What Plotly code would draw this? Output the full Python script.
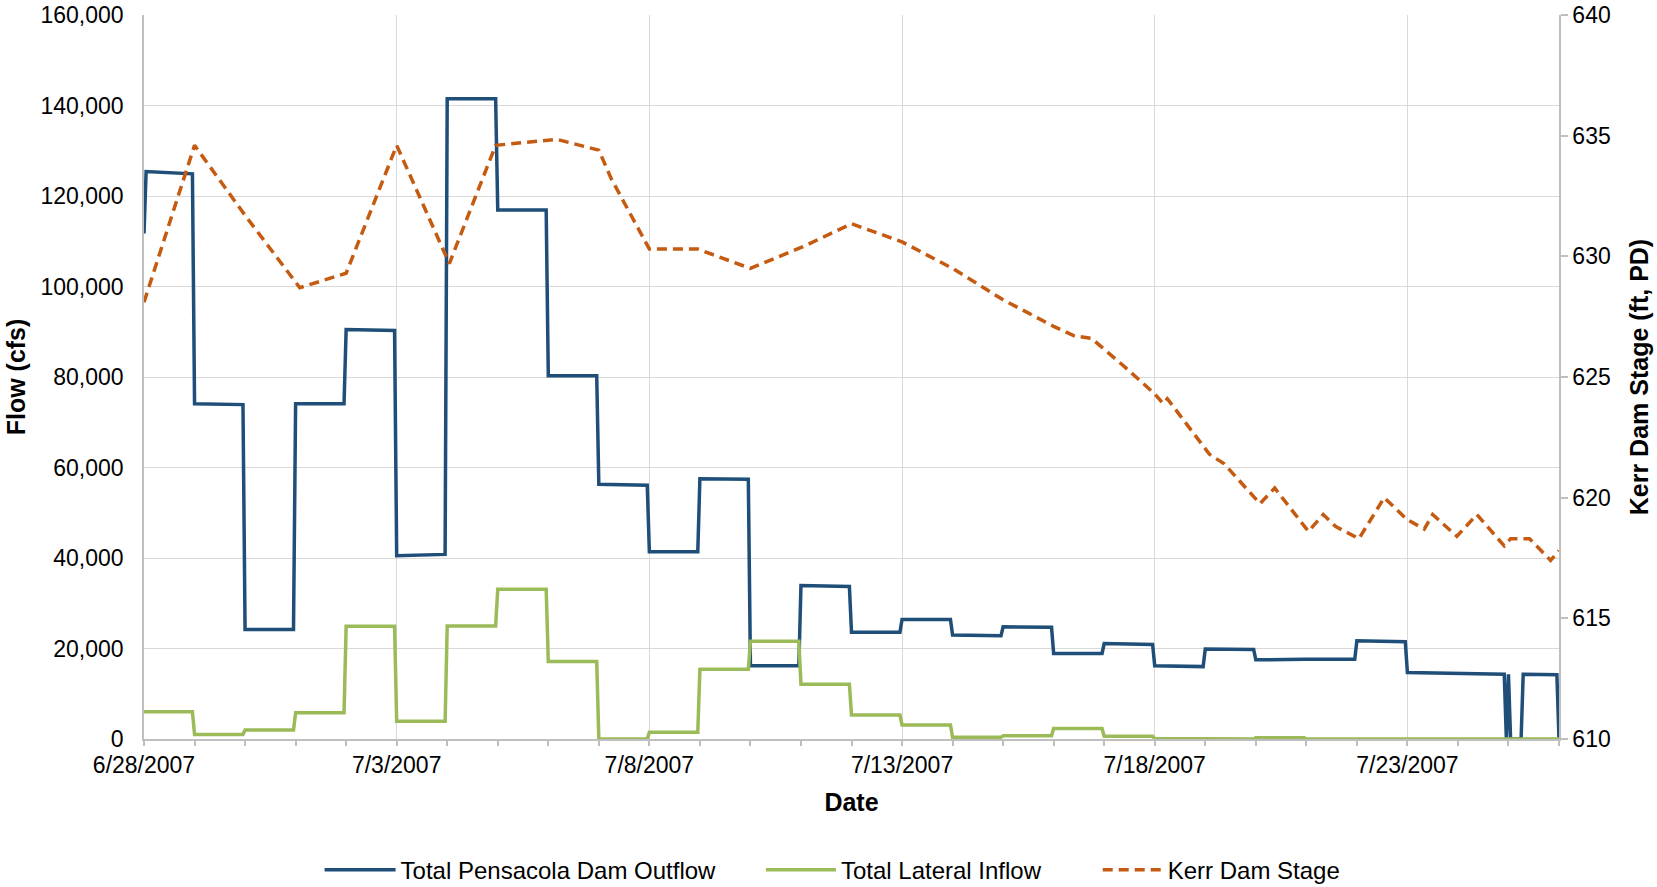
import pandas as pd
import plotly.graph_objects as go

# ---- Total Pensacola Dam Outflow (cfs) at hourly breakpoints ----
outflow_time = [
    "2007-06-28 00:00", "2007-06-28 01:00", "2007-06-28 23:00",
    "2007-06-29 00:00", "2007-06-29 23:00",
    "2007-06-30 00:00", "2007-06-30 23:00",
    "2007-07-01 00:00", "2007-07-01 23:00",
    "2007-07-02 00:00", "2007-07-02 23:00",
    "2007-07-03 00:00", "2007-07-03 23:00",
    "2007-07-04 00:00", "2007-07-04 23:00",
    "2007-07-05 00:00", "2007-07-05 23:00",
    "2007-07-06 00:00", "2007-07-06 23:00",
    "2007-07-07 00:00", "2007-07-07 23:00",
    "2007-07-08 00:00", "2007-07-08 23:00",
    "2007-07-09 00:00", "2007-07-09 23:00",
    "2007-07-10 00:00", "2007-07-10 23:00",
    "2007-07-11 00:00", "2007-07-11 23:00",
    "2007-07-12 00:00", "2007-07-12 23:00",
    "2007-07-13 00:00", "2007-07-13 23:00",
    "2007-07-14 00:00", "2007-07-14 23:00",
    "2007-07-15 00:00", "2007-07-15 23:00",
    "2007-07-16 00:00", "2007-07-16 23:00",
    "2007-07-17 00:00", "2007-07-17 23:00",
    "2007-07-18 00:00", "2007-07-18 23:00",
    "2007-07-19 00:00", "2007-07-19 23:00",
    "2007-07-20 00:00", "2007-07-20 23:00",
    "2007-07-21 00:00", "2007-07-21 23:00",
    "2007-07-22 00:00", "2007-07-22 23:00",
    "2007-07-23 00:00", "2007-07-23 23:00",
    "2007-07-24 00:00", "2007-07-24 22:00", "2007-07-24 23:00",
    "2007-07-25 00:00", "2007-07-25 01:00", "2007-07-25 06:00",
    "2007-07-25 07:00", "2007-07-25 23:00",
    "2007-07-26 00:00",
]
outflow_cfs = [
    111700, 125400, 124900,
    74100, 73900,
    24200, 24200,
    74100, 74100,
    90500, 90300,
    40500, 40800,
    141500, 141500,
    116900, 116900,
    80300, 80300,
    56300, 56100,
    41400, 41400,
    57500, 57400,
    16200, 16200,
    33900, 33700,
    23600, 23600,
    26400, 26400,
    23000, 22800,
    24800, 24700,
    18900, 18900,
    21100, 20900,
    16200, 16000,
    19900, 19800,
    17500, 17600,
    17600, 17600,
    21700, 21500,
    14700, 14500,
    14400, 14300, 0,
    14300, 0, 0,
    14300, 14200,
    0,
]

# ---- Total Lateral Inflow (cfs), one value per day ----
inflow_day = [
    "2007-06-28", "2007-06-29", "2007-06-30", "2007-07-01", "2007-07-02",
    "2007-07-03", "2007-07-04", "2007-07-05", "2007-07-06", "2007-07-07",
    "2007-07-08", "2007-07-09", "2007-07-10", "2007-07-11", "2007-07-12",
    "2007-07-13", "2007-07-14", "2007-07-15", "2007-07-16", "2007-07-17",
    "2007-07-18", "2007-07-19", "2007-07-20", "2007-07-21", "2007-07-22",
    "2007-07-23", "2007-07-24", "2007-07-25",
]
inflow_cfs = [
    6000, 1000, 2000, 5800, 24900,
    3900, 25000, 33100, 17100, 0,
    1500, 15400, 21600, 12100, 5300,
    3100, 400, 700, 2300, 600,
    100, 0, 300, 0, 0,
    0, 0, 0,
]

# ---- Kerr Dam Stage (ft, PD) ----
stage_time = [
    "2007-06-28 00:00", "2007-06-29 00:00", "2007-06-30 00:00", "2007-07-01 02:00",
    "2007-07-02 00:00", "2007-07-03 00:00", "2007-07-04 01:00", "2007-07-04 23:00",
    "2007-07-06 04:00", "2007-07-07 00:00", "2007-07-07 06:00", "2007-07-08 00:00",
    "2007-07-08 23:00", "2007-07-10 00:00", "2007-07-11 01:00", "2007-07-12 00:00",
    "2007-07-13 00:00", "2007-07-14 00:00", "2007-07-15 00:00", "2007-07-16 00:00",
    "2007-07-16 10:00", "2007-07-16 18:00", "2007-07-17 10:00", "2007-07-18 00:00",
    "2007-07-18 04:00", "2007-07-18 06:00", "2007-07-19 02:00", "2007-07-19 09:00",
    "2007-07-20 02:00", "2007-07-20 09:00", "2007-07-21 01:00", "2007-07-21 08:00",
    "2007-07-21 14:00", "2007-07-22 01:00", "2007-07-22 13:00", "2007-07-22 23:45",
    "2007-07-23 08:00", "2007-07-23 12:00", "2007-07-23 23:30", "2007-07-24 09:00",
    "2007-07-24 22:00", "2007-07-25 01:00", "2007-07-25 10:00", "2007-07-25 20:00",
    "2007-07-26 00:00",
]
stage_ft = [
    628.1, 634.6, 631.7, 628.7,
    629.3, 634.6, 629.7, 634.6,
    634.85, 634.4, 633.2, 630.3,
    630.3, 629.5, 630.4, 631.35,
    630.6, 629.5, 628.2, 627.1,
    626.7, 626.6, 625.4, 624.3,
    623.9, 624.1, 621.8, 621.4,
    619.75, 620.4, 618.6, 619.3,
    618.8, 618.3, 620.0, 619.1,
    618.7, 619.3, 618.4, 619.3,
    618.0, 618.3, 618.3, 617.4,
    617.8,
]

# daily inflow held flat through each day (00:00 - 23:00)
inflow_x, inflow_y = [], []
for d, v in zip(pd.to_datetime(inflow_day), inflow_cfs):
    inflow_x += [d, d + pd.Timedelta(hours=23)]
    inflow_y += [v, v]
inflow_x.append(pd.Timestamp("2007-07-26"))
inflow_y.append(inflow_cfs[-1])

BLUE = "#1F4E79"
GREEN = "#9BBB59"
ORANGE = "#C55A11"
GRID = "#D9D9D9"
AXIS = "#BFBFBF"
FONT = "Liberation Sans, Arial, sans-serif"

fig = go.Figure()
fig.add_trace(go.Scatter(
    x=pd.to_datetime(outflow_time), y=outflow_cfs, mode="lines",
    name="Total Pensacola Dam Outflow", line=dict(color=BLUE, width=3.5),
    legend="legend",
))
fig.add_trace(go.Scatter(
    x=inflow_x, y=inflow_y, mode="lines",
    name="Total Lateral Inflow", line=dict(color=GREEN, width=3.5),
    legend="legend2",
))
fig.add_trace(go.Scatter(
    x=pd.to_datetime(stage_time), y=stage_ft, mode="lines", yaxis="y2",
    name="Kerr Dam Stage", line=dict(color=ORANGE, width=3.5, dash="10px,6px"),
    legend="legend3",
))

legend_common = dict(
    orientation="h", yanchor="middle", xanchor="left", y=-0.181,
    font=dict(family=FONT, size=24, color="#000000"),
    bgcolor="rgba(0,0,0,0)", borderwidth=0,
)

fig.update_layout(
    width=1657, height=887,
    margin=dict(l=144, r=98, t=15, b=148, autoexpand=False),
    paper_bgcolor="white", plot_bgcolor="white",
    font=dict(family=FONT, size=23, color="#000000"),
    showlegend=True,
    legend=dict(x=0.1241, itemwidth=71, **legend_common),
    legend2=dict(x=0.4360, itemwidth=70, **legend_common),
    legend3=dict(x=0.6740, itemwidth=60, **legend_common),
    xaxis=dict(
        type="date",
        range=["2007-06-28", "2007-07-26"],
        tick0="2007-06-28", dtick=5 * 86400000,
        tickformat="%-m/%-d/%Y",
        ticks="outside", ticklen=5, tickwidth=1.5, tickcolor=AXIS,
        minor=dict(dtick=86400000, ticks="outside", ticklen=5, tickwidth=1.5,
                   tickcolor=AXIS, showgrid=False),
        showgrid=True, gridcolor=GRID, gridwidth=1.3,
        showline=True, linecolor=AXIS, linewidth=1.5,
        tickfont=dict(family=FONT, size=23, color="#000000"),
        title=dict(text="<b>Date</b>", font=dict(family=FONT, size=25, color="#000000"),
                   standoff=16),
        automargin=False, zeroline=False,
    ),
    yaxis=dict(
        range=[0, 160000], dtick=20000, tickformat=",",
        showgrid=True, gridcolor=GRID, gridwidth=1.3,
        showline=True, linecolor=AXIS, linewidth=1.5,
        ticks="", ticklabelstandoff=14,
        tickfont=dict(family=FONT, size=23, color="#000000"),
        title=dict(text="<b>Flow (cfs)</b>", font=dict(family=FONT, size=25, color="#000000"),
                   standoff=8),
        automargin=False, zeroline=False,
    ),
    yaxis2=dict(
        range=[610, 640], dtick=5, overlaying="y", side="right", anchor="x",
        showgrid=False, showline=True, linecolor=AXIS, linewidth=1.5,
        ticks="outside", ticklen=7, tickwidth=1.5, tickcolor=AXIS,
        tickfont=dict(family=FONT, size=23, color="#000000"),
        title=dict(text="<b>Kerr Dam Stage (ft, PD)</b>",
                   font=dict(family=FONT, size=25, color="#000000"), standoff=21),
        automargin=False, zeroline=False,
    ),
)

fig.write_html("out.html")
